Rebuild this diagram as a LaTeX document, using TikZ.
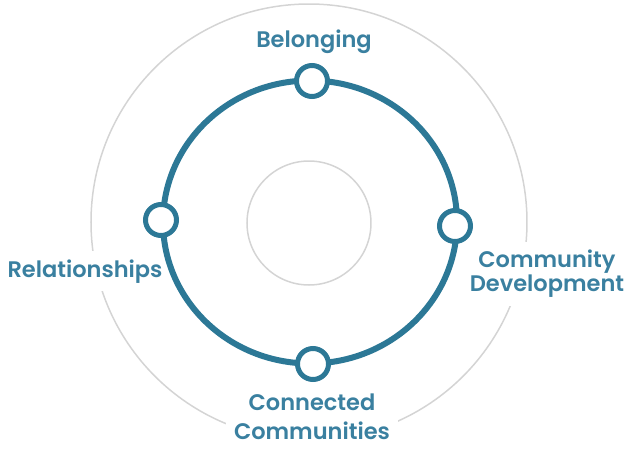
\documentclass[tikz,border=0pt]{standalone}
\usepackage{fontspec}
\setmainfont{Poppins}
\newfontfamily\stagefont{Poppins SemiBold}
\usetikzlibrary{positioning}
\definecolor{ringteal}{RGB}{44,120,150}
\definecolor{textteal}{RGB}{58,128,160}
\definecolor{softgray}{RGB}{212,212,212}

\begin{document}
\begin{tikzpicture}[x=1pt, y=1pt,
    ringnode/.style={circle, draw=ringteal, line width=5pt, fill=white, minimum size=31pt, inner sep=0pt},
    stagetext/.style={text=textteal, fill=white, inner sep=8pt, align=center, font=\stagefont\fontsize{22.5}{24}\selectfont}]
    \useasboundingbox (-309,-226) rectangle (316,222);

    % Cercles gris
    \draw[softgray, line width=1.5pt] (0,0) circle (218);
    \draw[softgray, line width=1.5pt] (0,-1) circle (62);

    % Textes (le fond blanc coupe le cercle exterieur)
    \node[stagetext, anchor=base] (belonging) at (5,175) {Belonging};
    \node[stagetext, anchor=base] (relationships) at (-224,-55) {Relationships};
    \node[stagetext] (development) at (238,-52) {Community\\Development};
    \node[stagetext, font=\stagefont\fontsize{22.5}{29}\selectfont] (connected) at (3,-195) {Connected\\Communities};

    % Cercle principal
    \draw[ringteal, line width=6pt] (1,0) ellipse [x radius=147, y radius=141.5];

    % Anneaux
    \node[ringnode] (belongingring) at (3,141) {};
    \node[ringnode] (relationsring) at (-148,2) {};
    \node[ringnode] (developring) at (146,-4) {};
    \node[ringnode] (connectring) at (4,-142) {};
\end{tikzpicture}
\end{document}
